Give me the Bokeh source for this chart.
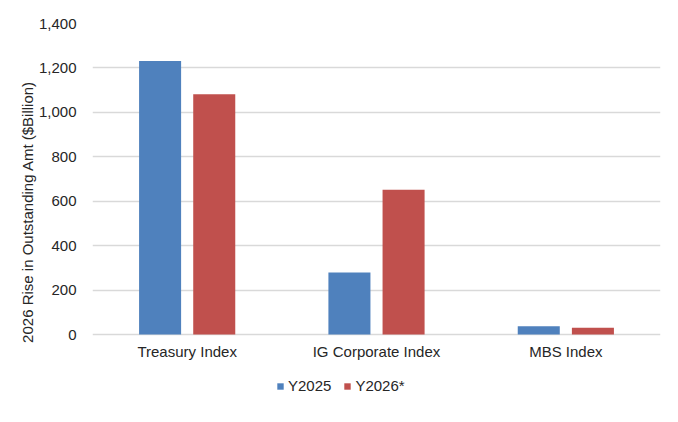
from bokeh.plotting import figure
from bokeh.models import (FactorRange, Range1d, NumeralTickFormatter, Legend, LegendItem,
                          ColumnDataSource, Title)
from bokeh.transform import dodge
from bokeh.embed import file_html
from bokeh.resources import INLINE

categories = ["Treasury Index", "IG Corporate Index", "MBS Index"]
y2025 = [1231, 279, 37]
y2026 = [1082, 652, 31]
series_names = ["Y2025", "Y2026*"]
y_ticks = [0, 200, 400, 600, 800, 1000, 1200, 1400]

src = ColumnDataSource(dict(cat=categories, y2025=y2025, y2026=y2026))

FONT = "Liberation Sans"
TXT = "#262626"

# frame extends below zero to leave room for category labels and legend
p = figure(width=670, height=414, x_range=FactorRange(*categories), y_range=Range1d(-297, 1400),
           output_backend="svg", toolbar_location=None,
           min_border_left=92, min_border_right=10, min_border_top=23, min_border_bottom=14)
p.outline_line_color = None
p.background_fill_color = "white"

r1 = p.vbar(x=dodge("cat", -0.143, range=p.x_range), top="y2025", width=0.222, source=src,
            fill_color="#4F81BD", line_color=None)
r2 = p.vbar(x=dodge("cat", 0.143, range=p.x_range), top="y2026", width=0.222, source=src,
            fill_color="#C0504D", line_color=None)

p.xgrid.grid_line_color = None
p.ygrid.grid_line_color = "#d9d9d9"
p.ygrid.grid_line_width = 1.5
p.yaxis.ticker = y_ticks
p.yaxis.formatter = NumeralTickFormatter(format="0,0")
p.xaxis.fixed_location = 0

for ax in (p.xaxis[0], p.yaxis[0]):
    ax.axis_line_color = None
    ax.major_tick_line_color = None
    ax.minor_tick_line_color = None
    ax.major_label_text_font = FONT
    ax.major_label_text_font_size = "15px"
    ax.major_label_text_color = TXT
p.xaxis.major_label_standoff = 2
p.yaxis.major_label_standoff = 10

ylabel = Title(text="2026 Rise in Outstanding Amt ($Billion)", align="center", offset=31,
               text_font=FONT, text_font_size="15px", text_font_style="normal",
               text_color=TXT, standoff=0)
p.add_layout(ylabel, "left")

legend = Legend(items=[LegendItem(label=series_names[0], renderers=[r1]),
                       LegendItem(label=series_names[1], renderers=[r2])],
                orientation="horizontal", location=(184, 6),
                glyph_width=8, glyph_height=8, label_standoff=4, spacing=12,
                padding=0, margin=0, border_line_color=None, background_fill_alpha=0,
                label_text_font=FONT, label_text_font_size="15px", label_text_color=TXT)
p.add_layout(legend, "center")

open("out.html", "w").write(file_html(p, INLINE))
